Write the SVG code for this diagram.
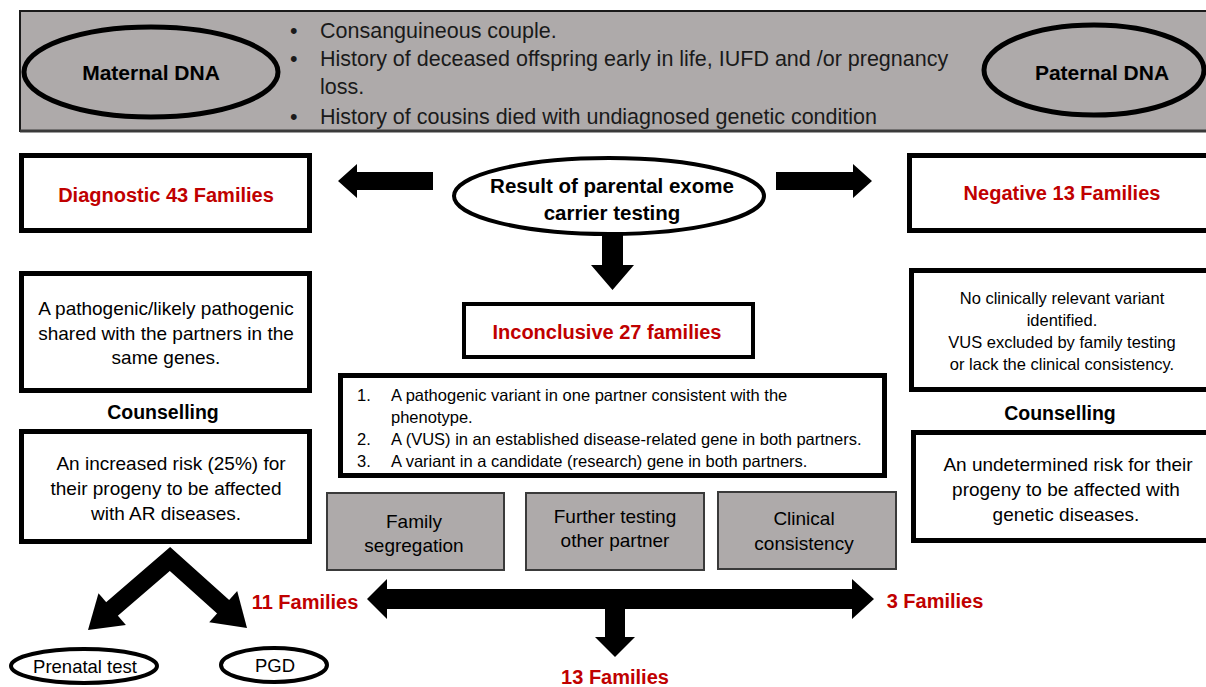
<svg xmlns="http://www.w3.org/2000/svg" width="1206" height="687" viewBox="0 0 1206 687">
<style>
text{font-family:"Liberation Sans",Arial,sans-serif;fill:#000}
.b{font-weight:bold}
.red{fill:#C00000;font-weight:bold;font-size:20px}
.box{fill:#fff;stroke:#000;stroke-width:5}
.gbox{fill:#AEAAAA;stroke:#3a3a3a;stroke-width:2}
.ell{fill:#fff;stroke:#000;stroke-width:4}
.arr{fill:#000;stroke:none}
.c{text-anchor:middle}
.t19{font-size:19px}
.t16{font-size:16.5px}
.bul{font-size:21.5px;fill:#1a1a1a}
</style>
<rect width="1206" height="687" fill="#fff"/>

<g id="banner">
<rect x="20" y="11" width="1200" height="120" fill="#AEAAAA" stroke="#1a1a1a" stroke-width="2"/>
<line x1="20" y1="131" x2="1206" y2="131" stroke="#3a3a3a" stroke-width="3"/>
<text class="bul" x="290" y="38">•</text>
<text class="bul" x="320" y="38">Consanguineous couple.</text>
<text class="bul" x="290" y="66">•</text>
<text class="bul" x="320" y="66">History of deceased offspring early in life, IUFD and /or pregnancy</text>
<text class="bul" x="320" y="94">loss.</text>
<text class="bul" x="290" y="124">•</text>
<text class="bul" x="320" y="124">History of cousins died with undiagnosed genetic condition</text>
</g>
<g id="maternal">
<ellipse cx="151" cy="72" rx="127" ry="45" fill="none" stroke="#000" stroke-width="5"/>
<text class="b c" x="151" y="80" font-size="21">Maternal DNA</text>
</g>
<g id="paternal">
<ellipse cx="1094" cy="70" rx="110" ry="45" fill="none" stroke="#000" stroke-width="5"/>
<text class="b c" x="1102" y="80" font-size="21">Paternal DNA</text>
</g>

<g id="connectors">
<polygon class="arr" points="338,181 357,164 357,172 433,172 433,190 357,190 357,198"/>
<polygon class="arr" points="872,181 853,164 853,172 776,172 776,190 853,190 853,198"/>
<polygon class="arr" points="602,230 623,230 623,265 634,265 612.5,290 591,265 602,265"/>
<polygon class="arr" points="367,599 387,579 387,589 852,589 852,579 874,599 852,619 852,609 625,609 625,637 635,637 615,657 595,637 605,637 605,609 387,609 387,619"/>
<polyline points="105,615 170,559 229,612" fill="none" stroke="#000" stroke-width="18" stroke-linejoin="miter"/>
<polygon class="arr" points="88,630 125.9,625 98.5,593.2"/>
<polygon class="arr" points="247,628 209.2,622.3 237.2,591.1"/>
</g>

<g id="result">
<ellipse class="ell" cx="609" cy="196" rx="155" ry="38"/>
<text class="b c" x="612" y="193" font-size="20.5">Result of parental exome</text>
<text class="b c" x="612" y="220" font-size="20.5">carrier testing</text>
</g>

<g id="diagnostic">
<rect class="box" x="21.5" y="155.5" width="288" height="75"/>
<text class="red c" x="166" y="202">Diagnostic 43 Families</text>
</g>
<g id="diag-desc">
<rect class="box" x="21.5" y="273.5" width="288" height="117"/>
<text class="c t19" x="166" y="315">A pathogenic/likely pathogenic</text>
<text class="c t19" x="166" y="340">shared with the partners in the</text>
<text class="c t19" x="166" y="364">same genes.</text>
</g>
<g id="diag-couns-label">
<text class="b c" x="163" y="419" font-size="19.5">Counselling</text>
</g>
<g id="diag-risk">
<rect class="box" x="21.5" y="431.5" width="288" height="110"/>
<text class="c t19" x="171" y="470">An increased risk (25%) for</text>
<text class="c t19" x="166" y="495">their progeny to be affected</text>
<text class="c t19" x="166" y="520">with AR diseases.</text>
</g>

<g id="negative">
<rect class="box" x="909.5" y="155.5" width="320" height="75"/>
<text class="red c" x="1062" y="200">Negative 13 Families</text>
</g>
<g id="neg-desc">
<rect class="box" x="911.5" y="270.5" width="320" height="119"/>
<text class="c t16" x="1062" y="304">No clinically relevant variant</text>
<text class="c t16" x="1062" y="326">identified.</text>
<text class="c t16" x="1062" y="348">VUS excluded by family testing</text>
<text class="c t16" x="1062" y="370">or lack the clinical consistency.</text>
</g>
<g id="neg-couns-label">
<text class="b c" x="1060" y="420" font-size="19.5">Counselling</text>
</g>
<g id="neg-risk">
<rect class="box" x="913.5" y="432.5" width="320" height="108"/>
<text class="c t19" x="1068" y="471">An undetermined risk for their</text>
<text class="c t19" x="1066" y="496">progeny to be affected with</text>
<text class="c t19" x="1066" y="521">genetic diseases.</text>
</g>

<g id="inconclusive">
<rect x="464" y="304" width="289" height="53" fill="#fff" stroke="#000" stroke-width="4"/>
<text class="red c" x="607" y="339">Inconclusive 27 families</text>
</g>
<g id="incon-list">
<rect class="box" x="340.5" y="375.5" width="544" height="100"/>
<text class="t16" x="357" y="401">1.</text>
<text class="t16" x="391" y="401">A pathogenic variant in one partner consistent with the</text>
<text class="t16" x="391" y="423">phenotype.</text>
<text class="t16" x="357" y="445">2.</text>
<text class="t16" x="391" y="445">A (VUS) in an established disease-related gene in both partners.</text>
<text class="t16" x="357" y="467">3.</text>
<text class="t16" x="391" y="467">A variant in a candidate (research) gene in both partners.</text>
</g>

<g id="family-seg">
<rect class="gbox" x="327" y="493" width="177" height="77"/>
<text class="c t19" x="414" y="528">Family</text>
<text class="c t19" x="414" y="552">segregation</text>
</g>
<g id="further-testing">
<rect class="gbox" x="526" y="493" width="178" height="77"/>
<text class="c t19" x="615" y="523">Further testing</text>
<text class="c t19" x="615" y="547">other partner</text>
</g>
<g id="clinical">
<rect class="gbox" x="718" y="492" width="178" height="77"/>
<text class="c t19" x="804" y="525">Clinical</text>
<text class="c t19" x="804" y="550">consistency</text>
</g>

<g id="lbl-11"><text class="red c" x="305" y="609">11 Families</text></g>
<g id="lbl-3"><text class="red c" x="935" y="608">3 Families</text></g>
<g id="lbl-13"><text class="red c" x="615" y="684">13 Families</text></g>

<g id="prenatal">
<ellipse class="ell" cx="84" cy="666" rx="73" ry="17"/>
<text class="c" x="85" y="673" font-size="18.5">Prenatal test</text>
</g>
<g id="pgd">
<ellipse class="ell" cx="274" cy="665" rx="53" ry="17"/>
<text class="c" x="275" y="672" font-size="18.5">PGD</text>
</g>
</svg>
